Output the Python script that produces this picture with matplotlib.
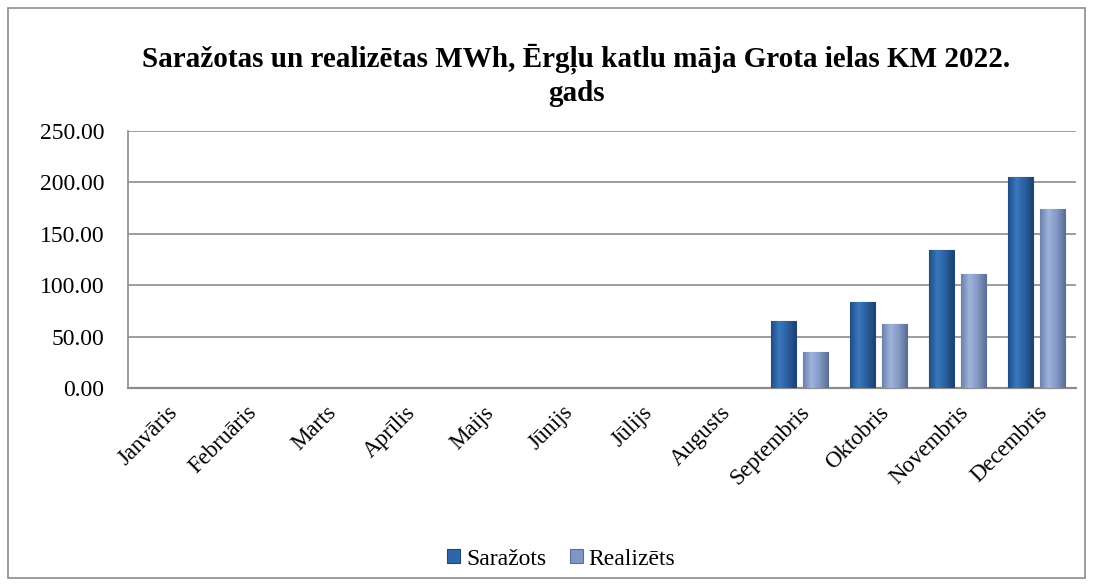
import numpy as np
import matplotlib.pyplot as plt
from matplotlib.patches import Rectangle
from matplotlib.colors import LinearSegmentedColormap

months = ['Janvāris', 'Februāris', 'Marts', 'Aprīlis', 'Maijs', 'Jūnijs',
          'Jūlijs', 'Augusts', 'Septembris', 'Oktobris', 'Novembris', 'Decembris']
sarazots = [0, 0, 0, 0, 0, 0, 0, 0, 64.7, 83.5, 134.3, 205.0]
realizets = [0, 0, 0, 0, 0, 0, 0, 0, 34.6, 62.4, 111.0, 173.8]
title = 'Saražotas un realizētas MWh, Ērgļu katlu māja Grota ielas KM 2022.\ngads'

plt.rcParams['font.family'] = ['Liberation Serif', 'DejaVu Serif']

fig = plt.figure(figsize=(10.94, 5.88), dpi=100)
ax = fig.add_axes([128 / 1094, 1 - 388 / 588, (1076 - 128) / 1094, (388 - 131) / 588])

# outer chart border
fig.patches.append(Rectangle((8 / 1094, 10 / 588), 1077 / 1094, 570 / 588,
                             transform=fig.transFigure, fill=False,
                             edgecolor='#8c8c8c', linewidth=1.2))

x = np.arange(len(months))
w = 0.31
b1 = ax.bar(x - 0.2, sarazots, w, color='#2f66a9', edgecolor='#1f4677', linewidth=0.8,
            label='Saražots', zorder=3)
b2 = ax.bar(x + 0.2, realizets, w, color='#8097c5', edgecolor='#5a6e98', linewidth=0.8,
            label='Realizēts', zorder=3)

# horizontal gradient fill to mimic the bevelled Excel bars
cm1 = LinearSegmentedColormap.from_list('s', ['#214d85', '#3a78c0', '#2b5f9f', '#1d4272'])
cm2 = LinearSegmentedColormap.from_list('r', ['#6b80ab', '#9fb3dc', '#8599c6', '#5f7096'])
grad = np.linspace(0, 1, 64).reshape(1, -1)
for bars, cm in [(b1, cm1), (b2, cm2)]:
    for r in bars:
        if r.get_height() <= 0:
            continue
        x0, y0, ww, hh = r.get_x(), r.get_y(), r.get_width(), r.get_height()
        im = ax.imshow(grad, cmap=cm, extent=[x0, x0 + ww, y0, y0 + hh],
                       aspect='auto', zorder=3.5, interpolation='bilinear')
        im.set_clip_path(r)

ax.set_xlim(-0.5, len(months) - 0.5)
ax.set_ylim(0, 250)
ax.set_yticks(np.arange(0, 251, 50))
ax.set_yticklabels([f'{v:.2f}' for v in np.arange(0, 251, 50)], fontsize=17)
ax.yaxis.grid(True, color='#8c8c8c', linewidth=1.2, zorder=0)
ax.set_axisbelow(True)

ax.set_xticks(x)
ax.set_xticklabels(months, rotation=45, ha='right', rotation_mode='anchor', fontsize=16.5)
ax.tick_params(axis='x', length=0, pad=10)
ax.tick_params(axis='y', length=0, pad=17)

for s in ['top', 'right']:
    ax.spines[s].set_visible(False)
ax.spines['left'].set_color('#8c8c8c')
ax.spines['bottom'].set_color('#8c8c8c')
ax.spines['left'].set_linewidth(1.2)
ax.spines['bottom'].set_linewidth(1.6)

fig.text(0.527, 0.872, title, ha='center', va='center', fontsize=21,
         fontweight='bold', linespacing=1.3)

fig.legend(loc='center', bbox_to_anchor=(0.513, 0.049), ncol=2, frameon=False,
           fontsize=17, handlelength=0.55, handleheight=0.55, handletextpad=0.25,
           columnspacing=1.0)

fig.savefig('out.png', dpi=100)
